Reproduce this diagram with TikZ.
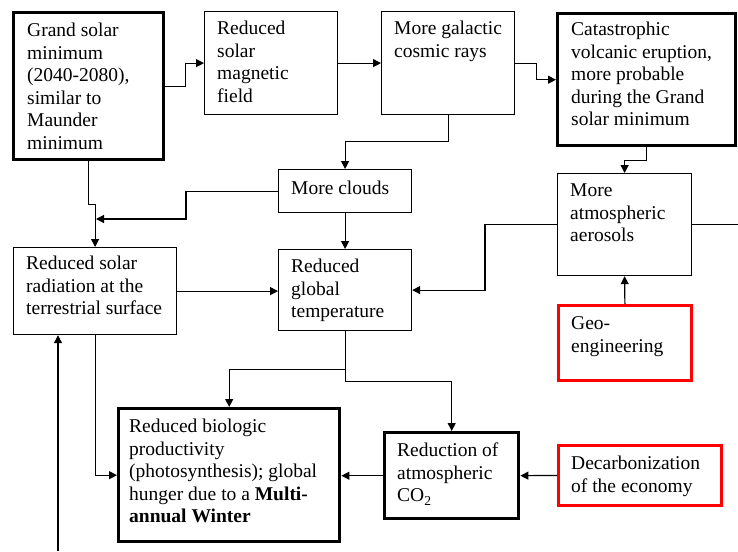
\documentclass[tikz,border=0pt]{standalone}
\usepackage{fontspec}
\setmainfont{Liberation Serif}
\usetikzlibrary{arrows.meta}
\newcommand\fsz{\fontsize{19.5}{22.5}\selectfont}
\begin{document}
\begin{tikzpicture}[x=1pt,y=-1pt,
  box/.style={draw, line width=1.2pt, inner sep=0pt, anchor=north west},
  thickbox/.style={box, line width=3.4pt},
  redbox/.style={box, draw=red, line width=2.8pt},
  txt/.style={anchor=north west, inner sep=0pt, align=left, font=\fsz},
  arr/.style={line width=1.2pt, -{Triangle[length=8pt,width=8pt]}},
  ln/.style={line width=1.2pt}]
\useasboundingbox (0,0) rectangle (738,551);
% boxes
\node[thickbox, minimum width=150pt, minimum height=147pt] (gsm) at (12,11) {};
\node[box, minimum width=133pt, minimum height=103pt] (rsmf) at (204,11) {};
\node[box, minimum width=133pt, minimum height=103pt] (mgcr) at (381,11) {};
\node[thickbox, minimum width=178pt, minimum height=132pt] (cat) at (556,12) {};
\node[box, minimum width=133pt, minimum height=43pt] (clouds) at (278,169) {};
\node[box, minimum width=134pt, minimum height=102pt] (aer) at (557,173) {};
\node[box, minimum width=163pt, minimum height=87pt] (rsr) at (13,247) {};
\node[box, minimum width=133pt, minimum height=81pt] (rgt) at (278,249) {};
\node[redbox, minimum width=133pt, minimum height=75pt] (geo) at (557,304) {};
\node[thickbox, minimum width=221pt, minimum height=133pt] (bio) at (117,407) {};
\node[thickbox, minimum width=134pt, minimum height=86pt] (co2) at (383,431) {};
\node[redbox, minimum width=163pt, minimum height=60pt] (dec) at (557,444) {};
% texts
\node[txt] (gsm-t) at (27,21) {\strut Grand solar\\minimum\\(2040-2080),\\similar to\\Maunder\\minimum};
\node[txt] (rsmf-t) at (217,19) {\strut Reduced\\solar\\magnetic\\field};
\node[txt] (mgcr-t) at (394,19) {\strut More galactic\\cosmic rays};
\node[txt] (cat-t) at (571,20) {\strut Catastrophic\\volcanic eruption,\\more probable\\during the Grand\\solar minimum};
\node[txt] (clouds-t) at (291,179) {\strut More clouds};
\node[txt] (aer-t) at (570,181) {\strut More\\atmospheric\\aerosols};
\node[txt] (rsr-t) at (26,254) {\strut Reduced solar\\radiation at the\\terrestrial surface};
\node[txt] (rgt-t) at (291,257) {\strut Reduced\\global\\temperature};
\node[txt] (geo-t) at (571,314) {\strut Geo-\\engineering};
\node[txt] (bio-t) at (129,417) {\strut Reduced biologic\\productivity\\(photosynthesis); global\\hunger due to a \textbf{Multi-}\\\textbf{annual Winter}};
\node[txt] (co2-t) at (397,441) {\strut Reduction of\\atmospheric\\CO\textsubscript{2}};
\node[txt] (dec-t) at (571,454) {\strut Decarbonization\\of the economy};
% free ends
\coordinate (j1) at (96,219);
\coordinate (redge) at (738,224);
\coordinate (bot) at (58,551);
% connectors
\draw[arr] (gsm.east) -- ++(20,0) |- (rsmf.west);
\draw[arr] (rsmf.east) -- (mgcr.west);
\draw[arr] (mgcr.east) -- ++(21,0) |- (cat.west);
\draw[arr] (mgcr.south) -- ++(0,26) -| (clouds.north);
\draw[arr] (cat.south) -- ++(0,13) -| (aer.north);
\draw[arr] (gsm.south) -- ++(0,43) -| (rsr.north);
\draw[arr] (clouds.west) -- ++(-92,0) |- (j1);
\draw[arr] (clouds.south) -- (rgt.north);
\draw[arr] (aer.west) -- ++(-72,0) |- (rgt.east);
\draw[ln] (aer.east) -- (aer.east -| redge);
\draw[arr] (geo.north) -- (aer.south);
\draw[arr] (rsr.east) -- (rsr.east -| rgt.west);
\draw[arr] (rsr.south) |- (bio.west);
\draw[arr] (bot) -- (bot |- rsr.south);
\draw[arr] (rgt.south) -- ++(0,38) -| (bio.north);
\draw[arr] (rgt.south) -- ++(0,50) -| (co2.north);
\draw[arr] (co2.west) -- (co2.west -| bio.east);
\draw[arr] (dec.west) -- (co2.east);
\end{tikzpicture}
\end{document}
